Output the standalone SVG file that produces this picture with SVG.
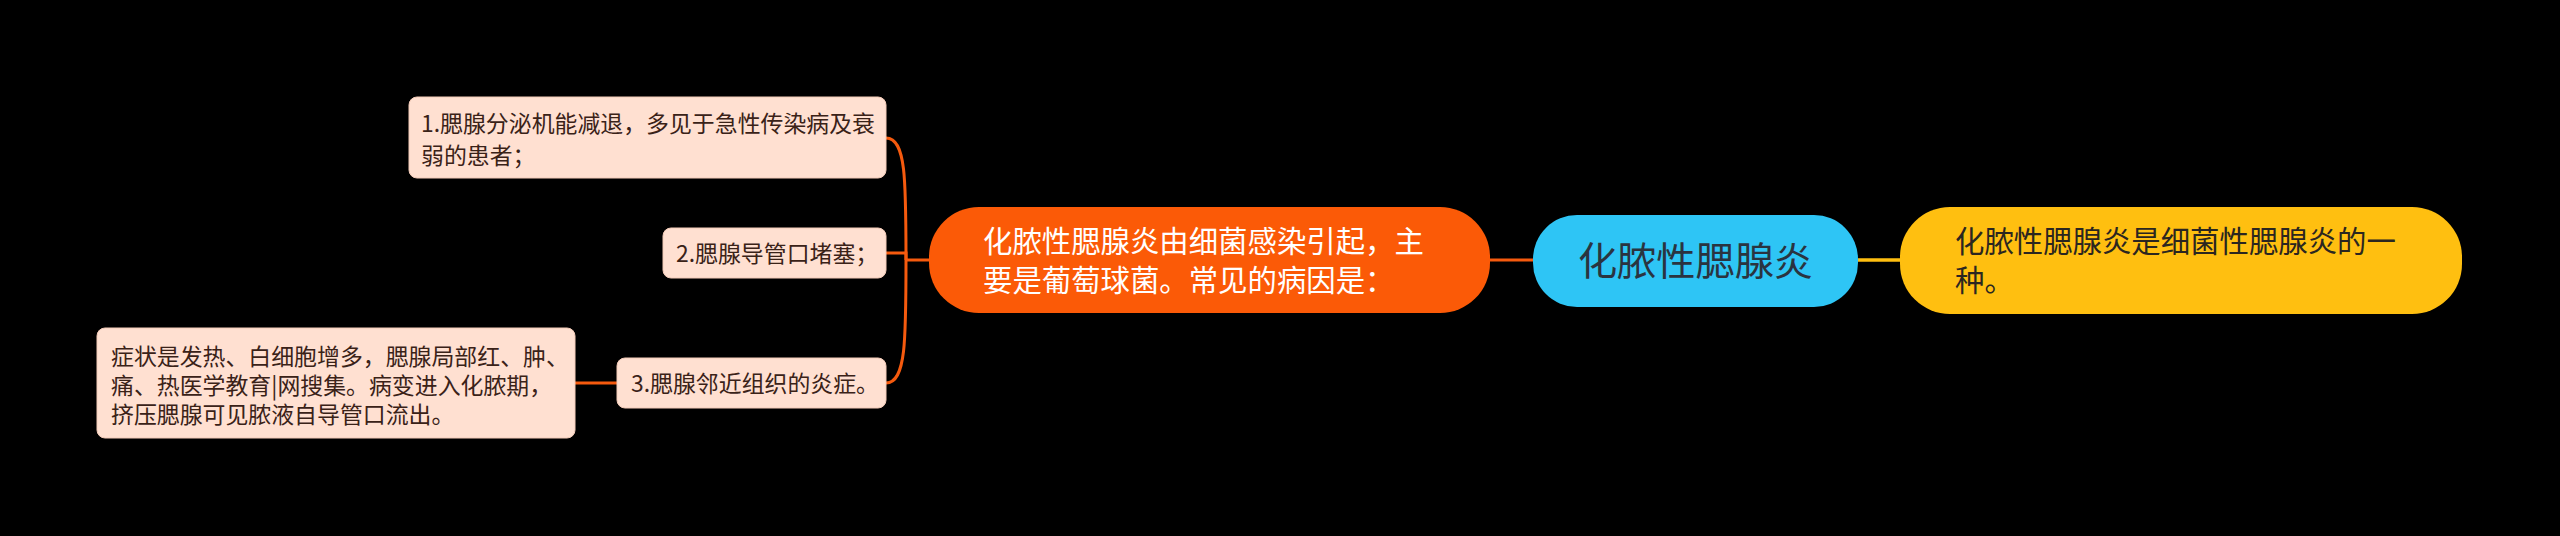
<svg xmlns="http://www.w3.org/2000/svg" width="2560" height="536" viewBox="0 0 2560 536">
<style>
text{font-family:"Noto Sans CJK SC","Noto Sans",sans-serif;}
.sub rect{fill:#FFE0D1;stroke:#F3CBB8;stroke-width:1;}
.sub text{font-size:22.9px;fill:#3A2218;}
.big{font-size:29.4px;}
.ln{fill:none;stroke:#F55A0E;stroke-width:3;}
</style>
<rect x="0" y="0" width="2560" height="536" fill="#000000"/>
<g id="connectors">
<path class="ln" d="M929 260 H906"/>
<path class="ln" d="M906 260 C906 180 906 138 886 138"/>
<path class="ln" d="M906 260 V253 H886"/>
<path class="ln" d="M906 260 C906 340 906 383 886 383"/>
<path class="ln" d="M617 383 H575"/>
<path class="ln" stroke-width="3.5" d="M1490 260 H1533"/>
<path fill="none" stroke="#FFBF10" stroke-width="3.5" d="M1858 260 H1900"/>
</g>
<g id="root">
<rect x="1533" y="215" width="325" height="92" rx="44" fill="#2EC5F5"/>
<text x="1695.5" y="275" font-size="39.2" fill="#2A3440" text-anchor="middle">化脓性腮腺炎</text>
</g>
<g id="branch-left">
<rect x="929" y="207" width="561" height="106" rx="50" fill="#FB5A07"/>
<text class="big" x="983" y="252" fill="#FFFFFF">化脓性腮腺炎由细菌感染引起，主</text>
<text class="big" x="983" y="291" fill="#FFFFFF">要是葡萄球菌。常见的病因是：</text>
</g>
<g id="branch-right">
<rect x="1900" y="207" width="562" height="107" rx="50" fill="#FFBF10"/>
<text class="big" x="1955" y="252" fill="#2B2620">化脓性腮腺炎是细菌性腮腺炎的一</text>
<text class="big" x="1955" y="291" fill="#2B2620">种。</text>
</g>
<g id="cause1" class="sub">
<rect x="409" y="97" width="477" height="81" rx="8"/>
<text x="421" y="132">1.腮腺分泌机能减退，多见于急性传染病及衰</text>
<text x="421" y="164">弱的患者；</text>
</g>
<g id="cause2" class="sub">
<rect x="663" y="228" width="223" height="50" rx="8"/>
<text x="676" y="262">2.腮腺导管口堵塞；</text>
</g>
<g id="cause3" class="sub">
<rect x="617" y="358" width="269" height="50" rx="8"/>
<text x="631" y="392">3.腮腺邻近组织的炎症。</text>
</g>
<g id="detail3" class="sub">
<rect x="97" y="328" width="478" height="110" rx="8"/>
<text x="111" y="365">症状是发热、白细胞增多，腮腺局部红、肿、</text>
<text x="111" y="394">痛、热医学教育|网搜集。病变进入化脓期，</text>
<text x="111" y="423">挤压腮腺可见脓液自导管口流出。</text>
</g>
</svg>
